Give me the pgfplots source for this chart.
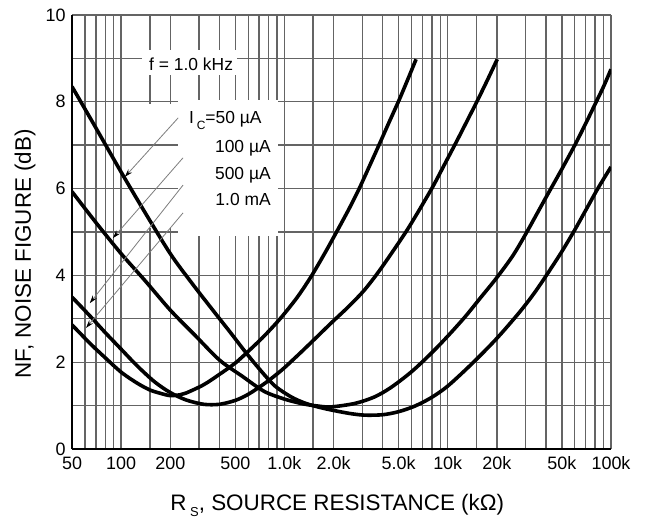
\documentclass[border=0pt]{standalone}
\usepackage{fontspec}
\setmainfont{Liberation Sans}
\usepackage{pgfplots}
\pgfplotsset{compat=1.18}
\usetikzlibrary{arrows.meta}
\definecolor{gridc}{RGB}{100,100,100}
\definecolor{leadc}{RGB}{125,125,125}
\begin{document}
\begin{tikzpicture}
\useasboundingbox (-72bp,-75bp) rectangle (573bp,449bp);
\begin{axis}[
  at={(0,0)}, anchor=south west,
  scale only axis, width=539bp, height=434bp,
  xmode=log, xmin=50, xmax=100000, ymin=0, ymax=10,
  xtick={50,100,200,500,1000,2000,5000,10000,20000,50000,100000},
  xticklabels={50,100,200,500,1.0k,2.0k,5.0k,10k,20k,50k,100k},
  minor xtick={60,70,80,90,150,300,400,600,700,800,900,1500,3000,4000,6000,7000,8000,9000,15000,30000,40000,60000,70000,80000,90000},
  ytick={0,2,4,6,8,10}, yticklabels={0,2,4,6,8,10},
  minor ytick={1,3,5,7,9},
  grid=both,
  major grid style={gridc, line width=1.4bp},
  minor grid style={gridc, line width=1.4bp},
  major tick length=0pt, minor tick length=0pt,
  axis x line*=bottom, axis y line*=left,
  axis line style={black, line width=2.8bp, -},
  tick label style={font=\fontsize{18}{21}\selectfont},
  xticklabel style={yshift=-4bp},
  yticklabel style={xshift=-3bp},
  label style={font=\fontsize{22.5}{26}\selectfont},
  xlabel={R\,\raisebox{-0.5ex}{\fontsize{13}{13}\selectfont S}, SOURCE RESISTANCE (kΩ)},
  ylabel={NF, NOISE FIGURE (dB)},
  xlabel style={at={(axis description cs:0.492,-0.129)}, anchor=center},
  ylabel style={at={(axis description cs:-0.087,0.45)}, anchor=center},
]
% white label backgrounds
\fill[white] (axis description cs:0.130,0.862) rectangle (axis description cs:0.306,0.919);
\fill[white] (axis description cs:0.197,0.491) rectangle (axis description cs:0.382,0.804);
\fill[white] (axis description cs:0.137,0.509) rectangle (axis description cs:0.197,0.795);
\draw[gridc, line width=1.4bp] (axis description cs:0.130,0.6) -- (axis description cs:0.197,0.6);
\draw[gridc, line width=1.4bp] (axis description cs:0.130,0.7) -- (axis description cs:0.197,0.7);

% IC = 1.0 mA
\addplot[black, line width=3.6bp, smooth] coordinates {
(50,2.86) (65,2.42) (80,2.1) (100,1.77) (125,1.52) (150,1.36) (175,1.28) (200,1.23)
(230,1.25) (250,1.29) (320,1.48) (400,1.72) (500,1.98) (600,2.25) (750,2.6) (950,3.02)
(1200,3.5) (1460,3.98) (1760,4.5) (2120,5.05) (2500,5.55) (2870,6.0) (3300,6.5)
(3810,7.02) (4400,7.55) (5050,8.05) (5700,8.52) (6400,8.98)};
% IC = 500 uA
\addplot[black, line width=3.6bp, smooth] coordinates {
(50,3.5) (65,3.05) (80,2.68) (100,2.3) (125,1.92) (160,1.55) (200,1.3) (250,1.13)
(320,1.03) (400,1.03) (500,1.12) (600,1.26) (750,1.5) (950,1.8) (1200,2.15)
(1500,2.5) (1930,2.9) (2500,3.3) (3100,3.67) (3800,4.1) (4700,4.6) (5650,5.05)
(6800,5.55) (8200,6.08) (9600,6.57) (11200,7.05) (13100,7.55) (15300,8.05)
(17600,8.52) (20100,8.98)};
% IC = 100 uA
\addplot[black, line width=3.6bp, smooth] coordinates {
(50,5.93) (70,5.22) (100,4.5) (140,3.88) (200,3.2) (280,2.64) (400,2.05) (550,1.68)
(750,1.33) (1000,1.15) (1300,1.04) (1600,0.99) (1930,0.97) (2700,1.05) (3560,1.2)
(4500,1.42) (6000,1.78) (7900,2.2) (10000,2.6) (12800,3.05) (16000,3.5) (20000,3.95)
(25000,4.45) (30000,4.95) (40000,5.8) (50000,6.45) (60000,7.0) (70000,7.5)
(80000,7.95) (90000,8.35) (100000,8.75)};
% IC = 50 uA
\addplot[black, line width=3.6bp, smooth] coordinates {
(50,8.35) (70,7.4) (100,6.38) (140,5.45) (200,4.5) (270,3.83) (373,3.15) (470,2.67)
(570,2.26) (700,1.85) (870,1.46) (1100,1.2) (1330,1.06) (1600,0.97) (1930,0.9)
(2500,0.82) (3100,0.78) (4000,0.79) (5000,0.86) (6300,0.99) (7900,1.18) (10000,1.45)
(14200,1.98) (20000,2.55) (27500,3.15) (34000,3.6) (41000,4.05) (50000,4.55)
(60000,5.05) (70000,5.5) (83000,6.0) (100000,6.5)};

% leader lines
\draw[leadc, line width=0.8bp, -{Stealth[black,length=8bp,width=5bp]}] (axis description cs:0.197,0.763) -- (axis description cs:0.098,0.627);
\draw[leadc, line width=0.8bp, -{Stealth[black,length=8bp,width=5bp]}] (axis description cs:0.206,0.671) -- (axis description cs:0.076,0.486);
\draw[leadc, line width=0.8bp, -{Stealth[black,length=8bp,width=5bp]}] (axis description cs:0.206,0.608) -- (axis description cs:0.033,0.336);
\draw[leadc, line width=0.8bp, -{Stealth[black,length=8bp,width=5bp]}] (axis description cs:0.206,0.544) -- (axis description cs:0.026,0.279);

% annotations
\node[anchor=base, font=\fontsize{17.5}{20}\selectfont] at (axis description cs:0.221,0.873) {f = 1.0 kHz};
\node[anchor=base east, inner sep=0pt, font=\fontsize{17.5}{20}\selectfont] at (axis description cs:0.352,0.749) {I\,\raisebox{-0.55ex}{\fontsize{12}{12}\selectfont C}=50 µA};
\node[anchor=base east, inner sep=0pt, font=\fontsize{17.5}{20}\selectfont] at (axis description cs:0.369,0.684) {100 µA};
\node[anchor=base east, inner sep=0pt, font=\fontsize{17.5}{20}\selectfont] at (axis description cs:0.369,0.622) {500 µA};
\node[anchor=base east, inner sep=0pt, font=\fontsize{17.5}{20}\selectfont] at (axis description cs:0.369,0.560) {1.0 mA};
\end{axis}
\end{tikzpicture}
\end{document}
